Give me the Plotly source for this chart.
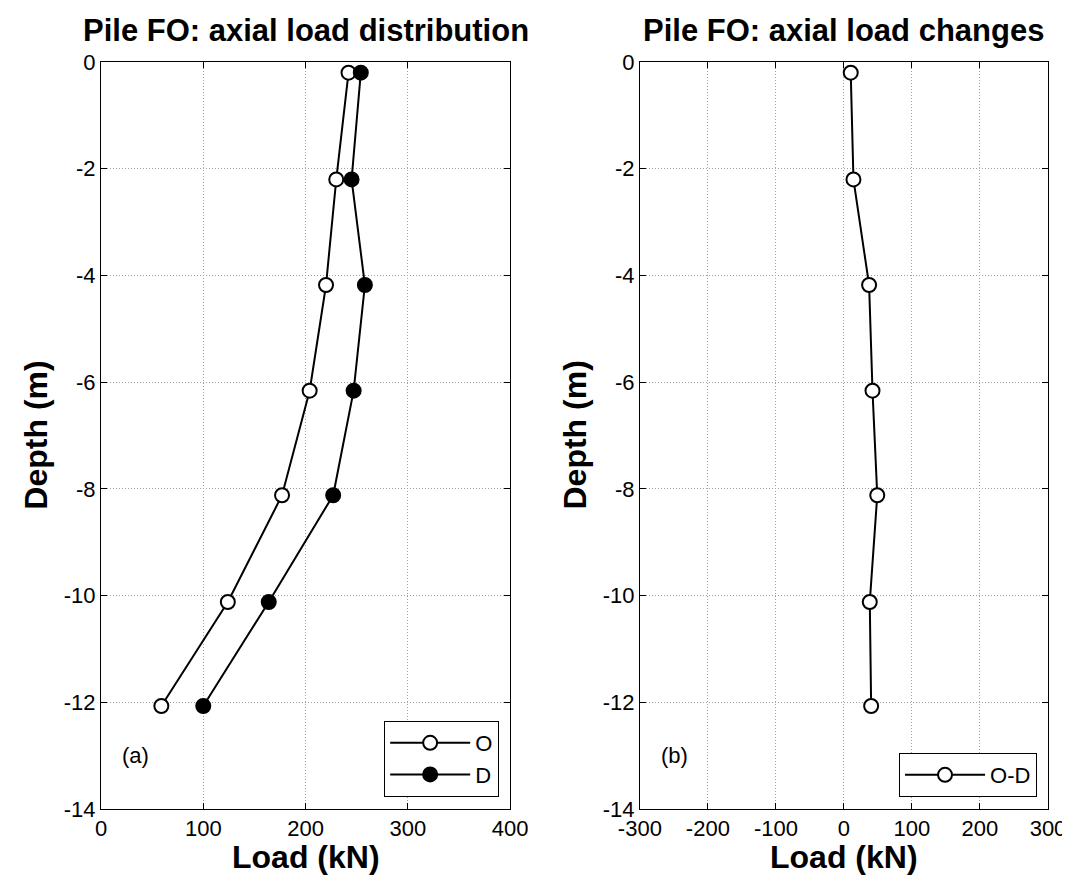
import plotly.graph_objects as go
from plotly.subplots import make_subplots

# Data
depth = [-0.2, -2.2, -4.18, -6.16, -8.12, -10.12, -12.07]
load_O = [242, 230, 220, 204, 177, 124, 59]
load_D = [254, 245, 258, 247, 227, 164, 100]
load_OD = [10, 14, 37, 42, 49, 38, 40]

left_ticks = [0, 100, 200, 300, 400]
left_labels = ["0", "100", "200", "300", "400"]
right_ticks = [-300, -200, -100, 0, 100, 200, 300]
right_labels = ["-300", "-200", "-100", "0", "100", "200", "300"]
depth_ticks = [0, -2, -4, -6, -8, -10, -12, -14]
depth_labels = ["0", "-2", "-4", "-6", "-8", "-10", "-12", "-14"]

FONT = "Arial, Liberation Sans, sans-serif"
W, H = 1070, 875
L, R, T, B = 93, 28, 54, 74
pw = W - L - R
ph = H - T - B

fig = make_subplots(rows=1, cols=2)

line_style = dict(color="black", width=2)
fig.add_trace(go.Scatter(x=load_O, y=depth, mode="lines+markers", name="O",
                         line=line_style,
                         marker=dict(symbol="circle", size=14, color="white",
                                     line=dict(color="black", width=2)),
                         legend="legend"), row=1, col=1)
fig.add_trace(go.Scatter(x=load_D, y=depth, mode="lines+markers", name="D",
                         line=line_style,
                         marker=dict(symbol="circle", size=14, color="black",
                                     line=dict(color="black", width=2)),
                         legend="legend"), row=1, col=1)
fig.add_trace(go.Scatter(x=load_OD, y=depth, mode="lines+markers", name="O-D",
                         line=line_style,
                         marker=dict(symbol="circle", size=14, color="white",
                                     line=dict(color="black", width=2)),
                         legend="legend2"), row=1, col=2)

d1 = [0, 410 / pw]
d2 = [(633 - L) / pw, 1]

axis_common = dict(showline=True, linecolor="black", linewidth=1, mirror="allticks",
                   ticks="inside", ticklen=6, tickcolor="black", tickwidth=1,
                   showgrid=True, gridcolor="#a0a0a0", griddash="1px,2px", gridwidth=1,
                   zeroline=False, tickfont=dict(family=FONT, size=22, color="black"))

fig.update_xaxes(axis_common)
fig.update_yaxes(axis_common)

fig.update_layout(
    xaxis=dict(domain=d1, range=[0, 400], tickvals=left_ticks, ticktext=left_labels),
    xaxis2=dict(domain=d2, range=[-300, 300], tickvals=right_ticks, ticktext=right_labels),
    yaxis=dict(range=[-14, 0], tickvals=depth_ticks, ticktext=depth_labels),
    yaxis2=dict(range=[-14, 0], tickvals=depth_ticks, ticktext=depth_labels),
)

legend_common = dict(bgcolor="white", bordercolor="black", borderwidth=1,
                     font=dict(family=FONT, size=22, color="black"),
                     itemwidth=80, xanchor="right", yanchor="bottom",
                     tracegroupgap=0)
fig.update_layout(
    legend=dict(legend_common, x=(492 - L) / pw, y=(H - B - 789) / ph),
    legend2=dict(legend_common, x=(1031 - L) / pw, y=(H - B - 789) / ph),
)

title_font = dict(family=FONT, size=31, color="black")
label_font = dict(family=FONT, size=32, color="black")
title_y = 1 + (T - 23) / ph
xlab_y = -(849 - (H - B)) / ph
for dom, ttl in [(d1, "Pile FO: axial load distribution"), (d2, "Pile FO: axial load changes")]:
    cx = (dom[0] + dom[1]) / 2
    fig.add_annotation(text="<b>" + ttl + "</b>", xref="paper", yref="paper",
                       x=cx, y=title_y, xanchor="center", yanchor="middle",
                       showarrow=False, font=title_font)
    fig.add_annotation(text="<b>Load (kN)</b>", xref="paper", yref="paper",
                       x=cx, y=xlab_y, xanchor="center", yanchor="middle",
                       showarrow=False, font=label_font)
    left_px = L + dom[0] * pw
    fig.add_annotation(text="<b>Depth (m)</b>", xref="paper", yref="paper",
                       x=(left_px - 66 - L) / pw, y=0.5, xanchor="center", yanchor="middle",
                       textangle=-90, showarrow=False, font=label_font)

fig.add_annotation(text="(a)", xref="x", yref="y", x=34, y=-13.0, showarrow=False,
                   font=dict(family=FONT, size=22, color="black"))
fig.add_annotation(text="(b)", xref="x2", yref="y2", x=-249, y=-13.0, showarrow=False,
                   font=dict(family=FONT, size=22, color="black"))

fig.update_layout(width=W, height=H, margin=dict(l=L, r=R, t=T, b=B),
                  plot_bgcolor="white", paper_bgcolor="white", showlegend=True)

fig.write_html("out.html")
